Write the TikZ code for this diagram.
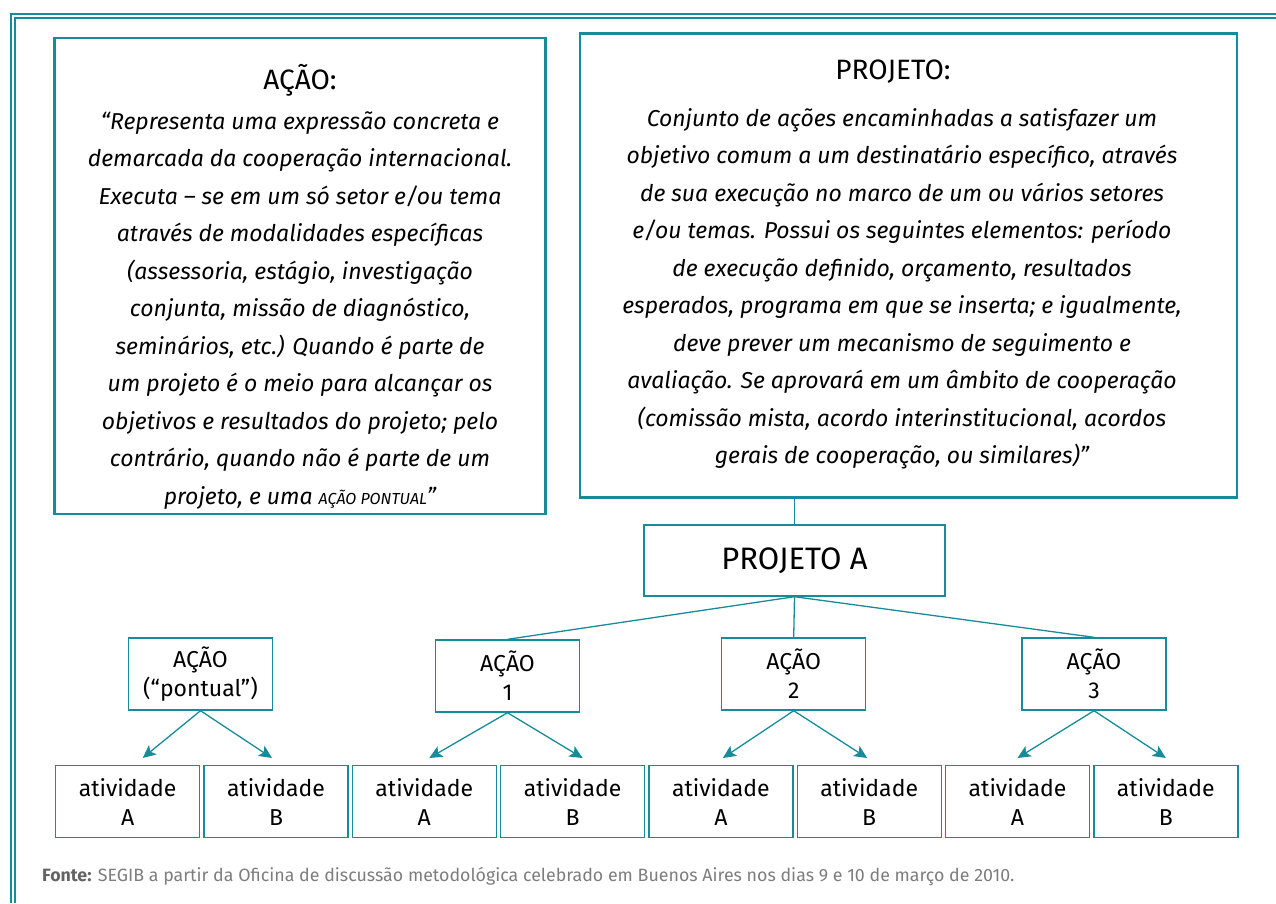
\documentclass[tikz,border=0pt]{standalone}
\usepackage{fontspec}
\setmainfont{Fira Sans}
\usetikzlibrary{arrows.meta,calc}
\definecolor{teal1}{RGB}{22,140,155}
\definecolor{footgray}{RGB}{125,125,125}
\definecolor{footdark}{RGB}{100,100,100}
\tikzset{
  bigbox/.style={draw=teal1, line width=2.5pt, inner sep=0pt},
  smallbox/.style={draw=teal1, line width=1.4pt, minimum width=144pt, minimum height=72pt,
    align=center, inner sep=0pt, font=\fontsize{23}{29}\selectfont},
  conn/.style={draw=teal1, line width=1.3pt},
  arr/.style={conn, -{Stealth[length=13pt,width=12pt,inset=3pt]}},
  titletxt/.style={font=\fontsize{28}{32}\selectfont, inner sep=0pt},
  bodytxt/.style={align=center, inner sep=0pt, font=\fontsize{23}{37.5}\selectfont\itshape},
}
\begin{document}
\begin{tikzpicture}[x=1pt,y=-1pt]
\useasboundingbox (0,0) rectangle (1276,903);
% frame
\draw[teal1, line width=1.2pt] (11,903) -- (11,14) -- (1276,14);
\draw[teal1, line width=1.6pt] (15,903) -- (15,18) -- (1276,18);
% big boxes
\node[bigbox, minimum width=491pt, minimum height=476pt] (acao) at (300,276) {};
\node[bigbox, minimum width=657pt, minimum height=464pt] (proj) at (908.5,265.5) {};
\node[titletxt] (acaotitle) at (300,80) {AÇÃO:};
\node[titletxt] (projtitle) at (893,72) {PROJETO:};
\node[bodytxt, anchor=north] (acaotxt) at (300,111) {“Representa uma expressão concreta e\\
demarcada da cooperação internacional.\\
Executa – se em um só setor e/ou tema\\
através de modalidades específicas\\
(assessoria, estágio, investigação\\
conjunta, missão de diagnóstico,\\
seminários, etc.) Quando é parte de\\
um projeto é o meio para alcançar os\\
objetivos e resultados do projeto; pelo\\
contrário, quando não é parte de um\\
projeto, e uma {\fontsize{16}{37.5}\selectfont AÇÃO PONTUAL}”};
\node[bodytxt, anchor=north] (projtxt) at (902,108) {Conjunto de ações encaminhadas a satisfazer um\\
objetivo comum a um destinatário específico, através\\
de sua execução no marco de um ou vários setores\\
e/ou temas. Possui os seguintes elementos: período\\
de execução definido, orçamento, resultados\\
esperados, programa em que se inserta; e igualmente,\\
deve prever um mecanismo de seguimento e\\
avaliação. Se aprovará em um âmbito de cooperação\\
(comissão mista, acordo interinstitucional, acordos\\
gerais de cooperação, ou similares)”};
% projeto A
\node[smallbox, minimum width=301pt, minimum height=71pt, font=\fontsize{31}{34}\selectfont] (pa) at (794.5,560.5) {PROJETO A};
\draw[conn] (pa.north) -- (pa.north |- proj.south);
% acao boxes
\node[smallbox] (a0) at (200.5,674) {AÇÃO\\(“pontual”)};
\node[smallbox] (a1) at (507.5,676) {AÇÃO\\1};
\node[smallbox] (a2) at (793.7,674) {AÇÃO\\2};
\node[smallbox] (a3) at (1094,674) {AÇÃO\\3};
\draw[conn] (pa.south) -- (a1.north);
\draw[conn] (pa.south) -- (a2.north);
\draw[conn] (pa.south) -- (a3.north);
% activity boxes
\foreach \i/\l in {0/A,1/B,2/A,3/B,4/A,5/B,6/A,7/B}{
  \node[smallbox] (b\i) at ({127.7+148.3*\i},801.7) {atividade\\\l};
}
\draw[arr] (a0.south) -- ([shift={(15,-7)}]b0.north);
\draw[arr] (a0.south) -- ([shift={(-4,-7)}]b1.north);
\draw[arr] (a1.south) -- ([shift={(5,-7)}]b2.north);
\draw[arr] (a1.south) -- ([shift={(10,-7)}]b3.north);
\draw[arr] (a2.south) -- ([shift={(2,-7)}]b4.north);
\draw[arr] (a2.south) -- ([shift={(-2,-7)}]b5.north);
\draw[arr] (a3.south) -- ([shift={(0,-7)}]b6.north);
\draw[arr] (a3.south) -- ([shift={(0,-7)}]b7.north);
% footer
\node[anchor=west, inner sep=0pt, font=\fontsize{17.8}{20}\selectfont, text=footgray] (fonte) at (42,876)
  {\textcolor{footdark}{\textbf{Fonte:}} SEGIB a partir da Oficina de discussão metodológica celebrado em Buenos Aires nos dias 9 e 10 de março de 2010.};
\end{tikzpicture}
\end{document}
